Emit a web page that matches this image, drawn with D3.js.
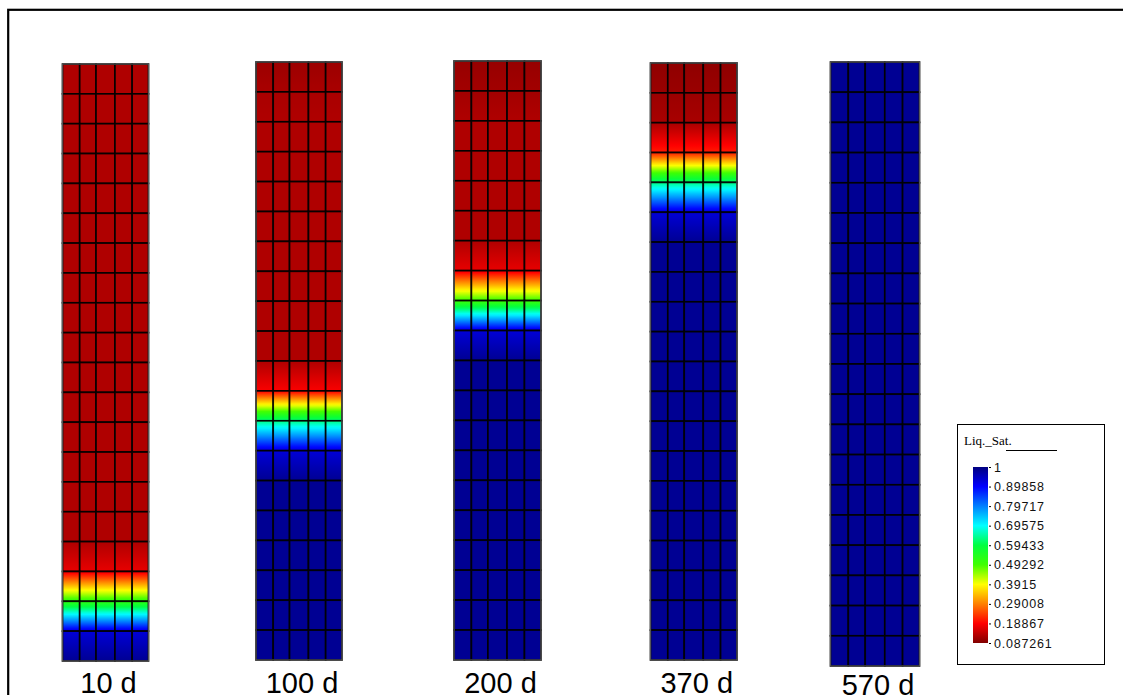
<!DOCTYPE html>
<html lang="en">
	<head>
		<meta charset="UTF-8" />
		<title>Liq. Sat. profiles</title>
		<script src="https://d3js.org/d3.v7.min.js"></script>
		<style>
			body { margin: 0; background: #fff; }
			svg { display: block; }
			.panel-label { font-family: "Liberation Sans", Arial, sans-serif; font-size: 29px; fill: #000; }
			.legend-title { font-family: "Liberation Serif", "Times New Roman", serif; font-size: 13px; fill: #000; }
			.legend-axis text { font-family: "Liberation Sans", Arial, sans-serif; font-size: 12.5px; letter-spacing: 0.8px; fill: #111; }
		</style>
	</head>
	<body>
		<svg id="chart"></svg>

		<script>
			// Data
			const TIMES = ["10 d", "100 d", "200 d", "370 d", "570 d"];
			// mesh column nodes (fraction of the column width)
			const MESH_X = [0, 0.2, 0.39, 0.61, 0.81, 1];
			const N_ROWS = 20;

			// nodal liquid saturation, top node to bottom node (21 nodes)
			const SAT_10 = [0.125, 0.125, 0.125, 0.125, 0.125, 0.125, 0.125, 0.125, 0.125, 0.125, 0.125, 0.125, 0.125, 0.125, 0.125, 0.125, 0.125, 0.17, 0.52, 0.93, 0.985];
			const SAT_100 = [0.11, 0.12, 0.125, 0.125, 0.125, 0.125, 0.125, 0.125, 0.125, 0.125, 0.125, 0.185, 0.63, 0.93, 0.985, 0.985, 0.985, 0.985, 0.985, 0.985, 0.985];
			const SAT_200 = [0.105, 0.115, 0.125, 0.125, 0.125, 0.125, 0.125, 0.17, 0.5, 0.93, 0.985, 0.985, 0.985, 0.985, 0.985, 0.985, 0.985, 0.985, 0.985, 0.985, 0.985];
			const SAT_370 = [0.1, 0.108, 0.12, 0.21, 0.63, 0.93, 0.985, 0.985, 0.985, 0.985, 0.985, 0.985, 0.985, 0.985, 0.985, 0.985, 0.985, 0.985, 0.985, 0.985, 0.985];
			const SAT_570 = [0.985, 0.985, 0.985, 0.985, 0.985, 0.985, 0.985, 0.985, 0.985, 0.985, 0.985, 0.985, 0.985, 0.985, 0.985, 0.985, 0.985, 0.985, 0.985, 0.985, 0.985];
			const PROFILES = [SAT_10, SAT_100, SAT_200, SAT_370, SAT_570];

			const LEGEND_VALUES = [1, 0.89858, 0.79717, 0.69575, 0.59433, 0.49292, 0.3915, 0.29008, 0.18867, 0.087261];
			const LEGEND_LABELS = ["1", "0.89858", "0.79717", "0.69575", "0.59433", "0.49292", "0.3915", "0.29008", "0.18867", "0.087261"];

			// Layout
			const WIDTH = 1123;
			const HEIGHT = 695;
			const PANELS = [
				{ left: 62.5, right: 148.5, top: 64, bottom: 661, labelY: 693 },
				{ left: 256, right: 342, top: 62, bottom: 660, labelY: 693 },
				{ left: 454, right: 541, top: 61, bottom: 660, labelY: 693 },
				{ left: 650.5, right: 737, top: 63, bottom: 660, labelY: 693 },
				{ left: 830.5, right: 919.5, top: 62, bottom: 666, labelY: 695 },
			];
			const LEGEND = { x: 957.5, y: 424.5, w: 147, h: 240, barX: 973, barW: 15, barTop: 467, barBottom: 643 };
			const JET = ["#000080", "#0000ff", "#0080ff", "#00ffff", "#00ff40", "#40ff00", "#ffff00", "#ff8000", "#ff0000", "#800000"];

			const color = d3.scaleLinear().domain(LEGEND_VALUES).range(JET).clamp(true);

			const svg = d3.select("#chart").attr("width", WIDTH).attr("height", HEIGHT);
			svg.append("rect").attr("width", WIDTH).attr("height", HEIGHT).attr("fill", "#fff");
			const defs = svg.append("defs");

			// outer frame (runs off the right and bottom edges)
			svg.append("rect")
				.attr("x", 8.2).attr("y", 9.8)
				.attr("width", WIDTH + 40).attr("height", HEIGHT + 40)
				.attr("fill", "none").attr("stroke", "#000").attr("stroke-width", 2.2);

			// Panels
			PANELS.forEach((p, pi) => {
				const nodes = PROFILES[pi];
				const xScale = d3.scaleLinear().domain([0, 1]).range([p.left, p.right]);
				const yScale = d3.scaleLinear().domain([0, N_ROWS]).range([p.top, p.bottom]);

				// one vertical gradient per row, interpolating the two nodal values
				const rows = d3.range(N_ROWS).map((r) => ({ r, v0: nodes[r], v1: nodes[r + 1], id: `g${pi}_${r}` }));
				rows.forEach((row) => {
					const g = defs.append("linearGradient").attr("id", row.id)
						.attr("x1", 0).attr("y1", 0).attr("x2", 0).attr("y2", 1);
					d3.range(0, 17).forEach((k) => {
						const t = k / 16;
						g.append("stop").attr("offset", t).attr("stop-color", color(row.v0 + (row.v1 - row.v0) * t));
					});
				});

				const cells = [];
				rows.forEach((row) => {
					for (let c = 0; c < MESH_X.length - 1; c++) cells.push({ row, c });
				});

				const panel = svg.append("g").attr("class", "panel");
				panel.selectAll(".cell")
					.data(cells)
					.enter()
					.append("rect")
					.classed("cell", true)
					.attr("x", (d) => xScale(MESH_X[d.c]))
					.attr("y", (d) => yScale(d.row.r))
					.attr("width", (d) => xScale(MESH_X[d.c + 1]) - xScale(MESH_X[d.c]))
					.attr("height", (d) => yScale(d.row.r + 1) - yScale(d.row.r))
					.attr("fill", (d) => `url(#${d.row.id})`)
					.attr("stroke", "#000")
					.attr("stroke-opacity", 0.9)
					.attr("stroke-width", 1.7);

				panel.append("rect")
					.attr("x", xScale(0)).attr("y", yScale(0))
					.attr("width", xScale(1) - xScale(0)).attr("height", yScale(N_ROWS) - yScale(0))
					.attr("fill", "none").attr("stroke", "#555").attr("stroke-width", 1.2);

				svg.append("text")
					.attr("class", "panel-label")
					.attr("x", (xScale(0) + xScale(1)) / 2 + 3)
					.attr("y", p.labelY)
					.attr("text-anchor", "middle")
					.text(TIMES[pi]);
			});

			// Legend
			const legend = svg.append("g");
			legend.append("rect")
				.attr("x", LEGEND.x).attr("y", LEGEND.y)
				.attr("width", LEGEND.w).attr("height", LEGEND.h)
				.attr("fill", "#fff").attr("stroke", "#000").attr("stroke-width", 1);

			legend.append("text")
				.attr("class", "legend-title")
				.attr("x", 964).attr("y", 445)
				.text("Liq._Sat.");
			legend.append("line")
				.attr("x1", 1006).attr("x2", 1057)
				.attr("y1", 450.5).attr("y2", 450.5)
				.attr("stroke", "#000").attr("stroke-width", 1);

			const legendY = d3.scaleLinear()
				.domain([LEGEND_VALUES[LEGEND_VALUES.length - 1], LEGEND_VALUES[0]])
				.range([LEGEND.barBottom, LEGEND.barTop]);

			const barGrad = defs.append("linearGradient").attr("id", "legendGrad")
				.attr("x1", 0).attr("y1", 0).attr("x2", 0).attr("y2", 1);
			LEGEND_VALUES.forEach((v) => {
				barGrad.append("stop")
					.attr("offset", (legendY(v) - LEGEND.barTop) / (LEGEND.barBottom - LEGEND.barTop))
					.attr("stop-color", color(v));
			});

			legend.append("rect")
				.attr("x", LEGEND.barX).attr("y", LEGEND.barTop)
				.attr("width", LEGEND.barW).attr("height", LEGEND.barBottom - LEGEND.barTop)
				.attr("fill", "url(#legendGrad)");

			legend.append("g")
				.attr("class", "legend-axis")
				.attr("transform", `translate(${LEGEND.barX + LEGEND.barW + 1}, 0)`)
				.call(d3.axisRight(legendY)
					.tickValues(LEGEND_VALUES)
					.tickSize(2)
					.tickPadding(3)
					.tickFormat((d, i) => LEGEND_LABELS[i]))
				.call((g) => g.select(".domain").remove());
		</script>
	</body>
</html>
